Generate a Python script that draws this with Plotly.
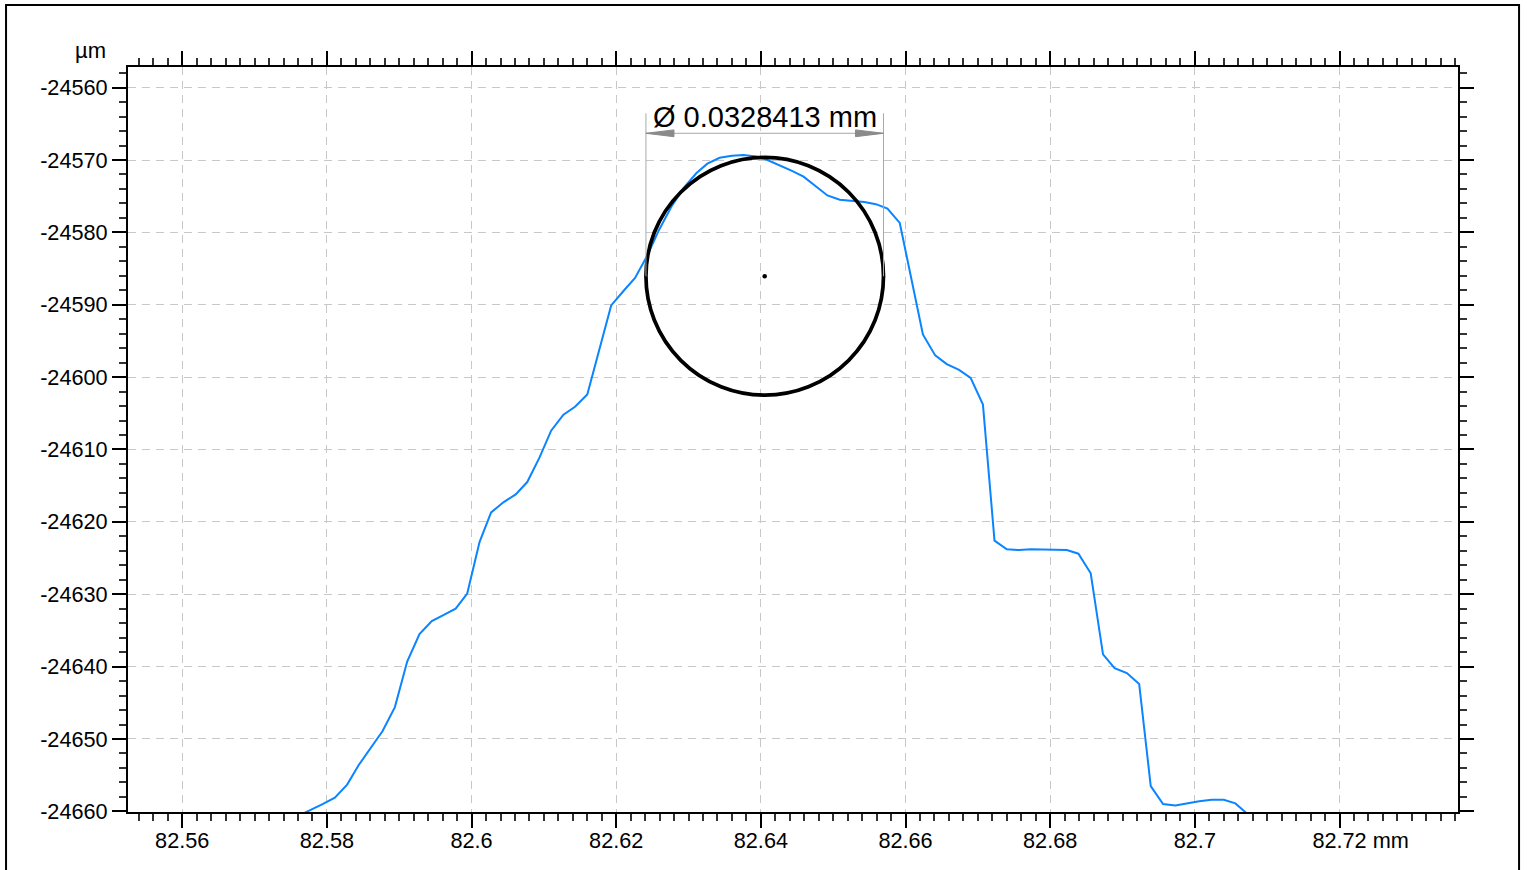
import plotly.graph_objects as go

# ---- data ----
x_mm = [82.5761, 82.5778, 82.5794, 82.5811, 82.5828, 82.5844, 82.5861, 82.5877, 82.5894, 82.5911,
        82.5928, 82.5945, 82.5961, 82.5978, 82.5994, 82.6011, 82.6027, 82.6044, 82.6061, 82.6077,
        82.6094, 82.6110, 82.6127, 82.6143, 82.6160, 82.6177, 82.6193, 82.6210, 82.6226, 82.6243,
        82.6259, 82.6276, 82.6293, 82.6311, 82.6326, 82.6343, 82.6360, 82.6376, 82.6393, 82.6409,
        82.6426, 82.6443, 82.6459, 82.6476, 82.6492, 82.6509, 82.6526, 82.6543, 82.6559, 82.6575,
        82.6592, 82.6608, 82.6624, 82.6641, 82.6657, 82.6674, 82.6690, 82.6707, 82.6723, 82.6740,
        82.6757, 82.6773, 82.6790, 82.6806, 82.6823, 82.6839, 82.6856, 82.6873, 82.6889, 82.6906,
        82.6923, 82.6939, 82.6956, 82.6973, 82.6989, 82.7006, 82.7023, 82.7040, 82.7056, 82.7072]
y_um = [-24660.6, -24659.8, -24659.0, -24658.1, -24656.3, -24653.6, -24651.1, -24648.9, -24645.6, -24639.3,
        -24635.5, -24633.7, -24632.9, -24632.0, -24629.9, -24622.8, -24618.7, -24617.3, -24616.2, -24614.5,
        -24611.1, -24607.4, -24605.2, -24604.1, -24602.4, -24595.9, -24590.1, -24588.1, -24586.3, -24583.2,
        -24579.7, -24576.5, -24573.9, -24571.8, -24570.5, -24569.7, -24569.4, -24569.3, -24569.5, -24570.0,
        -24570.7, -24571.5, -24572.3, -24573.6, -24574.9, -24575.5, -24575.7, -24575.8, -24576.1, -24576.7,
        -24578.7, -24586.4, -24594.1, -24597.0, -24598.2, -24599.0, -24600.1, -24603.8, -24622.6, -24623.8,
        -24623.9, -24623.8, -24623.8, -24623.8, -24623.9, -24624.4, -24627.1, -24638.3, -24640.2, -24640.9,
        -24642.4, -24656.5, -24659.0, -24659.2, -24658.9, -24658.6, -24658.4, -24658.4, -24658.9, -24660.3]

circle_center_x = 82.64053   # mm
circle_center_y = -24586.07  # µm
diameter_mm = 0.0328413
diameter_label = "Ø 0.0328413 mm"

x_ticks = [82.56, 82.58, 82.60, 82.62, 82.64, 82.66, 82.68, 82.70, 82.72]
x_ticktext = ["82.56", "82.58", "82.6", "82.62", "82.64", "82.66", "82.68", "82.7",
              "\u00a0" * 7 + "82.72 mm"]
y_ticks = [-24560, -24570, -24580, -24590, -24600, -24610, -24620, -24630, -24640, -24650, -24660]
y_ticktext = ["-24560", "-24570", "-24580", "-24590", "-24600", "-24610", "-24620", "-24630",
              "-24640", "-24650", "-24660"]

x_range = [82.5525, 82.73638]
y_range = [-24660.09, -24557.15]

# ---- figure ----
FONT = "Liberation Sans, Arial, sans-serif"
r_mm = diameter_mm / 2
r_um = diameter_mm * 1000 / 2

fig = go.Figure()
fig.add_trace(go.Scatter(x=x_mm, y=y_um, mode="lines",
                         line=dict(color="#0a84ff", width=2), hoverinfo="skip"))
fig.add_trace(go.Scatter(x=[circle_center_x], y=[circle_center_y], mode="markers",
                         marker=dict(color="black", size=4.5), hoverinfo="skip"))

shapes = []
# fitted circle
shapes.append(dict(type="circle", xref="x", yref="y",
                   x0=circle_center_x - r_mm, x1=circle_center_x + r_mm,
                   y0=circle_center_y - r_um, y1=circle_center_y + r_um,
                   line=dict(color="black", width=3.7)))
# dimension lines
dim_top = -24563.55
dim_arrow = -24566.31
xl = circle_center_x - r_mm
xr = circle_center_x + r_mm
for xv in (xl, xr):
    shapes.append(dict(type="line", xref="x", yref="y", x0=xv, x1=xv,
                       y0=circle_center_y, y1=dim_top,
                       line=dict(color="#a8a8a8", width=1)))
shapes.append(dict(type="line", xref="x", yref="y", x0=xl, x1=xr, y0=dim_arrow, y1=dim_arrow,
                   line=dict(color="#a8a8a8", width=1)))
ah_len = 0.00387
ah_half = 0.47
shapes.append(dict(type="path", xref="x", yref="y",
                   path=f"M {xl} {dim_arrow} L {xl + ah_len} {dim_arrow + ah_half} L {xl + ah_len} {dim_arrow - ah_half} Z",
                   fillcolor="#8a8a8a", line=dict(color="#8a8a8a", width=1)))
shapes.append(dict(type="path", xref="x", yref="y",
                   path=f"M {xr} {dim_arrow} L {xr - ah_len} {dim_arrow + ah_half} L {xr - ah_len} {dim_arrow - ah_half} Z",
                   fillcolor="#8a8a8a", line=dict(color="#8a8a8a", width=1)))
# outer frame
shapes.append(dict(type="rect", xref="paper", yref="paper",
                   x0=-0.0917, x1=1.0459, y0=-0.2, y1=1.0832,
                   line=dict(color="black", width=2), fillcolor="rgba(0,0,0,0)", layer="above"))

annotations = [
    dict(text=diameter_label, xref="x", yref="y", x=circle_center_x, y=-24564.1,
         xanchor="center", yanchor="middle", showarrow=False,
         font=dict(family=FONT, size=29, color="black")),
    dict(text="µm", xref="paper", yref="paper", x=-0.015, y=1.0228,
         xanchor="right", yanchor="middle", showarrow=False,
         font=dict(family=FONT, size=22, color="black")),
]

axis_common = dict(
    showline=True, linecolor="black", linewidth=2, mirror="allticks",
    ticks="outside", ticklen=14, tickwidth=1.5, tickcolor="black",
    showgrid=True, gridcolor="#c8c8c8", gridwidth=1, griddash="8px,6px",
    zeroline=False, tickfont=dict(family=FONT, size=21.7, color="black"),
)

fig.update_layout(
    width=1527, height=870,
    margin=dict(l=128, r=69, t=67, b=58),
    paper_bgcolor="white", plot_bgcolor="white",
    showlegend=False,
    shapes=shapes, annotations=annotations,
    xaxis=dict(range=x_range, tickmode="array", tickvals=x_ticks, ticktext=x_ticktext,
               ticklabelstandoff=-6,
               minor=dict(tickmode="linear", tick0=82.56, dtick=0.002, ticks="outside",
                          ticklen=7, tickwidth=1.5, tickcolor="#333333", showgrid=False),
               **axis_common),
    yaxis=dict(range=y_range, tickmode="array", tickvals=y_ticks, ticktext=y_ticktext,
               minor=dict(tickmode="linear", tick0=-24560, dtick=2, ticks="outside",
                          ticklen=7, tickwidth=1.5, tickcolor="#333333", showgrid=False),
               **axis_common),
)

fig.write_html("out.html", config={"displayModeBar": False},
               post_script="document.body.style.margin='0';")
